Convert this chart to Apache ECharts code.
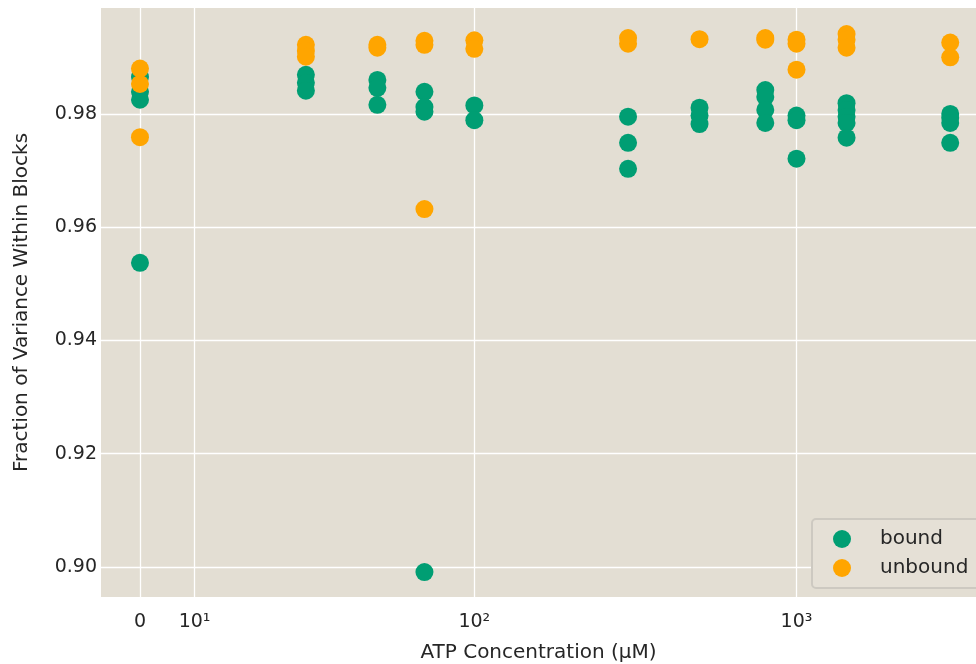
<!DOCTYPE html>
<html>
<head>
<meta charset="utf-8">
<script src="https://cdn.jsdelivr.net/npm/echarts@6/dist/echarts.min.js"></script>
<style>
    html, body { margin: 0; padding: 0; background: #ffffff; }
    #chart { width: 976px; height: 664px; }
</style>
</head>
<body>
<div id="chart"></div>
<script>
// ATP concentrations (µM) of each group of points
const concentrations = [0, 30, 50, 70, 100, 300, 500, 800, 1000, 1430, 3000]

// fraction of variance within blocks, one list per concentration
const boundValues = [
    [0.9865, 0.9839, 0.9825, 0.9537],
    [0.9869, 0.9855, 0.9841],
    [0.9860, 0.9846, 0.9816],
    [0.9839, 0.9812, 0.9804, 0.8991],
    [0.9815, 0.9789],
    [0.9795, 0.9749, 0.9703],
    [0.9811, 0.9797, 0.9782],
    [0.9842, 0.9830, 0.9807, 0.9784],
    [0.9797, 0.9789, 0.9721],
    [0.9819, 0.9807, 0.9795, 0.9784, 0.9758],
    [0.9800, 0.9793, 0.9784, 0.9749]
]
const unboundValues = [
    [0.9880, 0.9853, 0.9759],
    [0.9922, 0.9911, 0.9901],
    [0.9922, 0.9917],
    [0.9929, 0.9922, 0.9632],
    [0.9930, 0.9915],
    [0.9934, 0.9924],
    [0.9932],
    [0.9934, 0.9931],
    [0.9931, 0.9924, 0.9878],
    [0.9941, 0.9931, 0.9917],
    [0.9926, 0.9900]
]

const xTickValues = [0, 10, 100, 1000]
const xTickLabels = ['0', '10¹', '10²', '10³']
const yTickValues = [0.90, 0.92, 0.94, 0.96, 0.98]

// symlog x scale (linear near 0, log above linthresh)
const linthresh = 20
const linscale = 0.305
function symlog(x) {
    const c = linscale / (1 - 1 / 10)
    if (x <= linthresh) return x * c
    return linthresh * (c + Math.log10(x / linthresh))
}

function buildData(values) {
    let d = []
    for (let i = 0; i < concentrations.length; i++) {
        for (let v of values[i]) {
            d.push([symlog(concentrations[i]), v])
        }
    }
    return d
}

const font = 'DejaVu Sans'
const textColor = '#262626'

let myChart = echarts.init(document.getElementById('chart'))

let option = {
    animation: false,
    backgroundColor: '#ffffff',
    grid: {
        left: 101,
        right: 0,
        top: 8,
        bottom: 67,
        outerBoundsMode: 'none',
        show: true,
        backgroundColor: '#e3ded3',
        borderWidth: 0
    },
    xAxis: {
        type: 'value',
        min: -2.42,
        max: 51.9,
        name: 'ATP Concentration (μM)',
        nameLocation: 'middle',
        nameGap: 46,
        nameTextStyle: { fontFamily: font, fontSize: 20, color: textColor },
        axisLine: { show: false },
        axisTick: { show: false, customValues: xTickValues.map(symlog) },
        axisLabel: {
            customValues: xTickValues.map(symlog),
            formatter: function (v) {
                let i = xTickValues.map(symlog).findIndex(t => Math.abs(t - v) < 1e-6)
                return i >= 0 ? xTickLabels[i] : ''
            },
            margin: 16,
            fontFamily: font,
            fontSize: 19,
            color: textColor
        },
        splitLine: { show: true, lineStyle: { color: '#ffffff', width: 1.3 } }
    },
    yAxis: {
        type: 'value',
        min: 0.8947,
        max: 0.9987,
        name: 'Fraction of Variance Within Blocks',
        nameLocation: 'middle',
        nameGap: 69,
        nameTextStyle: { fontFamily: font, fontSize: 20, color: textColor },
        axisLine: { show: false },
        axisTick: { show: false, customValues: yTickValues },
        axisLabel: {
            customValues: yTickValues,
            formatter: v => v.toFixed(2),
            margin: 4,
            fontFamily: font,
            fontSize: 19,
            color: textColor
        },
        splitLine: { show: true, lineStyle: { color: '#ffffff', width: 1.3 } }
    },
    legend: {
        orient: 'vertical',
        left: 812,
        top: 519,
        icon: 'circle',
        itemWidth: 18,
        itemHeight: 18,
        itemGap: 9,
        padding: [10, 20, 10, 21],
        backgroundColor: '#e5e0d6',
        borderColor: '#cdc9c1',
        borderWidth: 2,
        borderRadius: 4,
        textStyle: { fontFamily: font, fontSize: 20, color: textColor, padding: [0, 0, 0, 24] },
        data: ['bound', 'unbound']
    },
    series: [
        {
            name: 'bound',
            type: 'scatter',
            symbolSize: 18,
            itemStyle: { color: '#009e73', opacity: 1 },
            data: buildData(boundValues)
        },
        {
            name: 'unbound',
            type: 'scatter',
            symbolSize: 18,
            itemStyle: { color: '#ffa500', opacity: 1 },
            data: buildData(unboundValues)
        }
    ]
}

option && myChart.setOption(option)
</script>
</body>
</html>
